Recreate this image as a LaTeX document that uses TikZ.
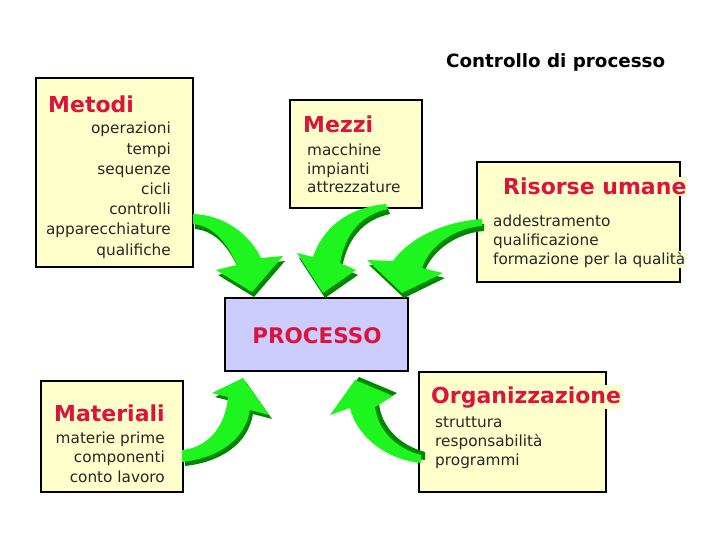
\documentclass[tikz,border=0pt]{standalone}
\usepackage{fontspec}
\setmainfont{DejaVu Sans}
\definecolor{boxfill}{RGB}{255,255,204}
\definecolor{procfill}{RGB}{204,204,255}
\definecolor{ttlred}{RGB}{220,20,60}
\definecolor{ltgreen}{RGB}{30,245,30}
\definecolor{dkgreen}{RGB}{0,135,0}
\newcommand\greenarrow[2]{\fill[dkgreen,shift={#1}] #2; \fill[ltgreen] #2;}
\begin{document}
\begin{tikzpicture}[x=1pt,y=-1pt,
  box/.style={draw=black,line width=2pt,fill=boxfill},
  ttl/.style={font=\fontsize{22}{22}\selectfont\bfseries,text=ttlred,fill=boxfill,inner sep=1pt},
  body/.style={font=\fontsize{15.3}{15.3}\selectfont,text=black!85,fill=boxfill,inner sep=1pt}]
\useasboundingbox (0,0) rectangle (720,540);
\fill[white] (0,0) rectangle (720,540);
% boxes
\draw[box] (36,78) rectangle (193,267);
\draw[box] (290,100) rectangle (422,208);
\draw[box] (477,162) rectangle (680,282);
\draw[box,fill=procfill] (225,298) rectangle (408,371);
\draw[box] (41,381) rectangle (183,492);
\draw[box] (419,372) rectangle (606,492);
% arrows
\greenarrow{(2,5)}{(193,214) .. controls (225,215) and (250,235) .. (261,258) -- (283,256) -- (252,292) -- (216,270) -- (237,265) .. controls (228,245) and (215,226) .. (193,224) -- cycle}
\greenarrow{(2,5)}{(386,204) .. controls (345,208) and (322,230) .. (313,257) -- (297,253) -- (323,293) -- (356,270) -- (340,263) .. controls (345,235) and (360,215) .. (388,209) -- cycle}
\greenarrow{(2,5)}{(482,219) .. controls (440,222) and (408,240) .. (393,261) -- (367,260) -- (402,293) -- (443,273) -- (422,268) .. controls (430,245) and (455,228) .. (482,226) -- cycle}
\greenarrow{(3,4)}{(182,450) .. controls (205,448) and (225,430) .. (228,397) -- (212,393) -- (243,378) -- (269,415) -- (250,410) .. controls (245,440) and (218,458) .. (182,462) -- cycle}
\greenarrow{(4,-3)}{(421,455) .. controls (395,448) and (378,430) .. (375,407) -- (393,396) -- (355,380) -- (330,415) -- (350,408) .. controls (358,440) and (390,460) .. (421,463) -- cycle}
% title
\node[font=\fontsize{18.3}{18.3}\selectfont\bfseries,anchor=base west,inner sep=0pt] (title) at (446,68) {Controllo di processo};
% Metodi
\node[ttl,anchor=base west] (tmet) at (47,113) {Metodi};
\foreach \t [count=\i from 0] in {operazioni,tempi,sequenze,cicli,controlli,apparecchiature,qualifiche}
  \node[body,anchor=base east] (met\i) at (172,{134+20.2*\i}) {\t};
% Mezzi
\node[ttl,anchor=base west] (tmez) at (302,133) {Mezzi};
\foreach \t [count=\i from 0] in {macchine,impianti,attrezzature}
  \node[body,anchor=base west] (mez\i) at (306,{156+18.5*\i}) {\t};
% Risorse umane
\node[ttl,anchor=base west] (tris) at (502,195) {Risorse umane};
\foreach \t [count=\i from 0] in {addestramento,qualificazione,formazione per la qualità}
  \node[body,anchor=base west] (ris\i) at (492,{226+19*\i}) {\t};
% Processo
\node[font=\fontsize{21.5}{21.5}\selectfont\bfseries,text=ttlred,anchor=base,inner sep=0pt] (proc) at (317,343) {PROCESSO};
% Materiali
\node[ttl,anchor=base west] (tmat) at (53,421) {Materiali};
\foreach \t [count=\i from 0] in {materie prime,componenti,conto lavoro}
  \node[body,anchor=base east] (mat\i) at (166,{443+19.5*\i}) {\t};
% Organizzazione
\node[ttl,anchor=base west] (torg) at (430,403) {Organizzazione};
\foreach \t [count=\i from 0] in {struttura,responsabilità,programmi}
  \node[body,anchor=base west] (org\i) at (434,{427+19*\i}) {\t};
\end{tikzpicture}
\end{document}
